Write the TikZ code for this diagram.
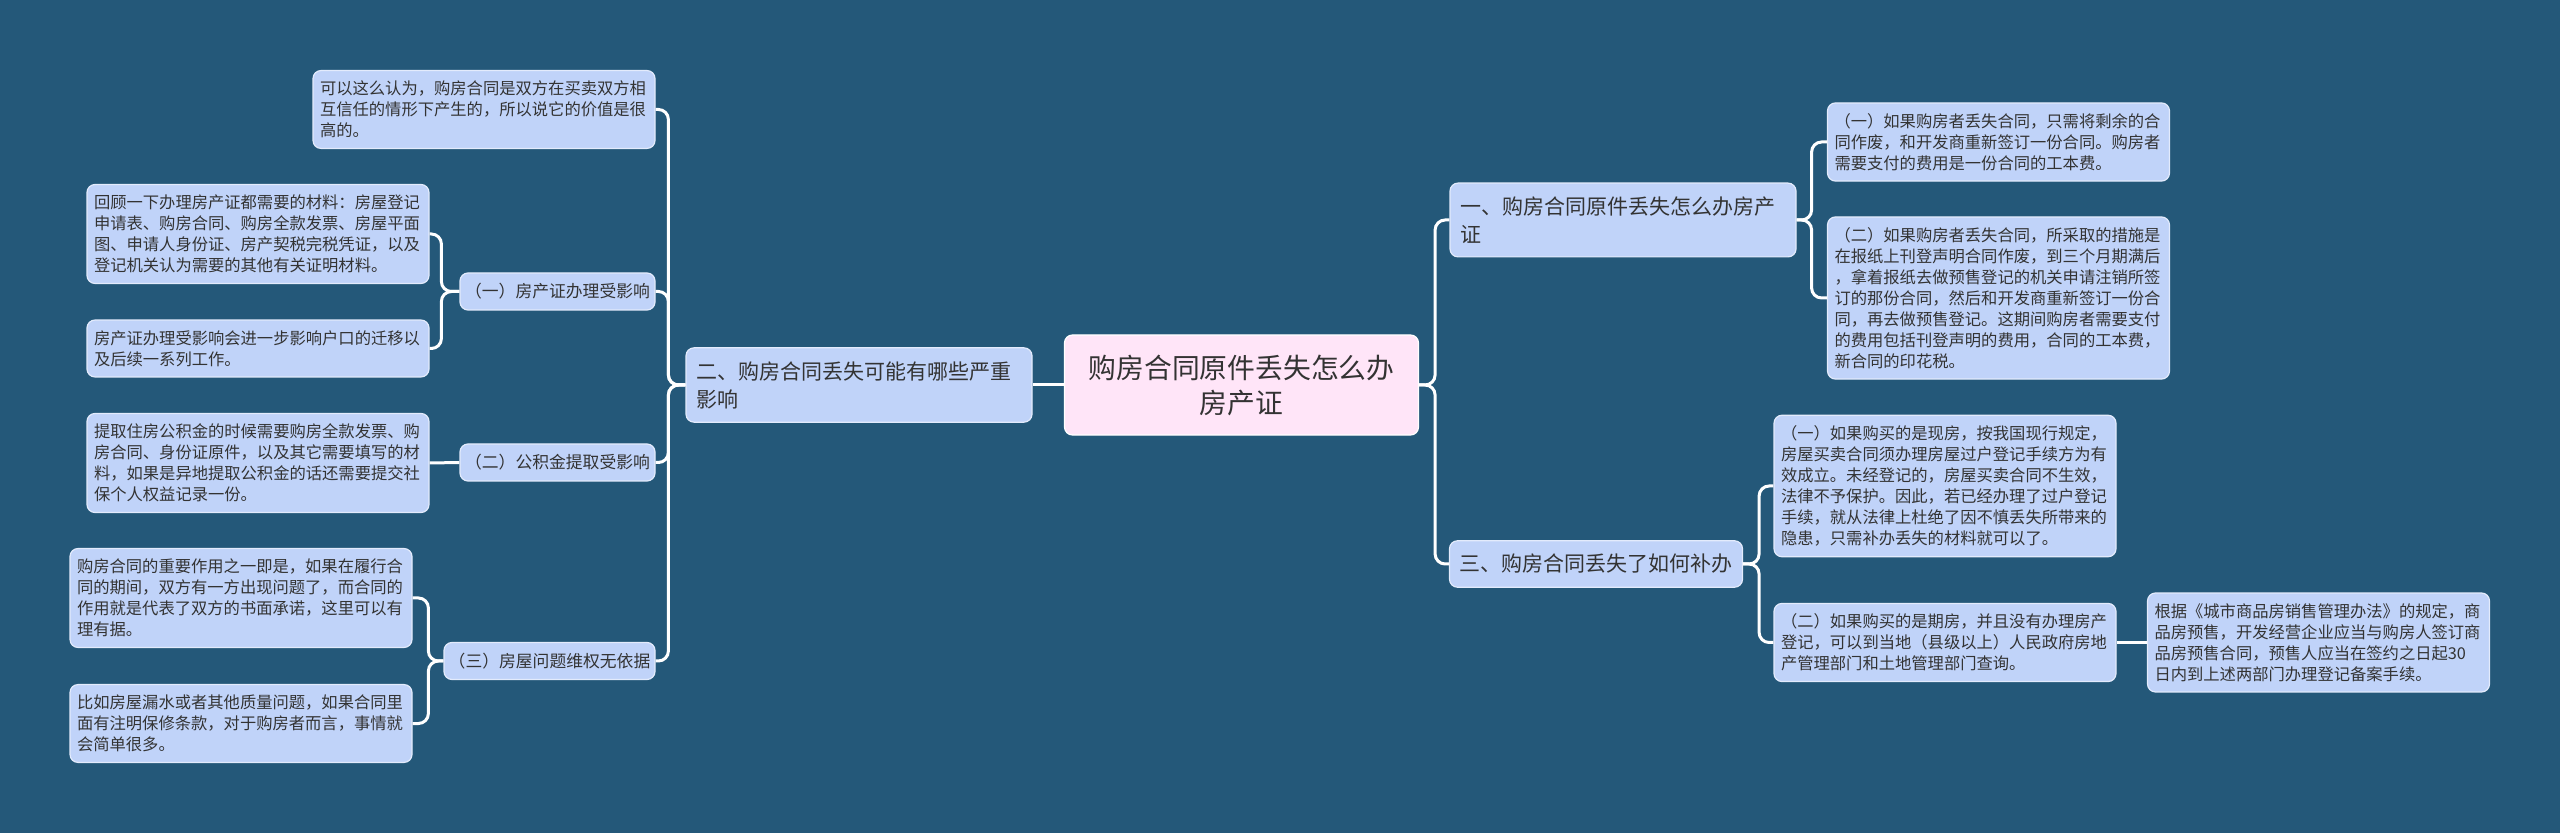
\documentclass[tikz,border=0pt]{standalone}
\usepackage{fontspec}
\setmainfont{Noto Sans CJK SC}
\usepackage{tikz}
\definecolor{bgblue}{HTML}{245879}
\definecolor{topicblue}{HTML}{C0D3F9}
\definecolor{rootpink}{HTML}{FFE5F8}
\definecolor{inkgray}{HTML}{333333}
\tikzset{
    rootbox/.style={rectangle, rounded corners=4pt, fill=rootpink, draw=white, line width=0.6pt, text=inkgray, align=center, text width=161pt, inner xsep=8pt, inner ysep=9.8pt, font=\fontsize{13.9pt}{17.5pt}\selectfont},
    topicbox/.style={rectangle, rounded corners=4pt, fill=topicblue, draw=white!55!topicblue, line width=0.6pt, text=inkgray, align=left, inner xsep=5pt, inner ysep=6.75pt, font=\fontsize{10.5pt}{14pt}\selectfont},
    subbox/.style={rectangle, rounded corners=4pt, fill=topicblue, draw=white!55!topicblue, line width=0.6pt, text=inkgray, minimum height=18.5pt, inner sep=2pt, font=\fontsize{8.4pt}{10.5pt}\selectfont},
    leafbox/.style={rectangle, rounded corners=4pt, fill=topicblue, draw=white!55!topicblue, line width=0.6pt, text=inkgray, align=left, text width=164pt, inner xsep=3.5pt, inner ysep=5.2pt, font=\fontsize{8.15pt}{10.5pt}\selectfont},
    link/.style={draw=white, line width=1.5pt, rounded corners=5pt}
}
\begin{document}
\begin{tikzpicture}[x=0.5pt, y=-0.5pt]
    \fill[bgblue] (0,0) rectangle (2560,833);
    \useasboundingbox (0,0) rectangle (2560,833);

    % centre
    \node[rootbox] (root) at (1241.5,385) {购房合同原件丢失怎么办\\房产证};

    % left side
    \node[topicbox, text width=163pt] (b2) at (859,385) {二、购房合同丢失可能有哪些严重\\影响};
    \node[leafbox] (b2top) at (484,109.5) {可以这么认为，购房合同是双方在买卖双方相\\互信任的情形下产生的，所以说它的价值是很\\高的。};
    \node[subbox, minimum width=97.5pt] (s1) at (557.5,291.5) {（一）房产证办理受影响};
    \node[subbox, minimum width=97.5pt] (s2) at (557.5,462.5) {（二）公积金提取受影响};
    \node[subbox, minimum width=105.5pt] (s3) at (549.5,661) {（三）房屋问题维权无依据};
    \node[leafbox] (s1a) at (258,234) {回顾一下办理房产证都需要的材料：房屋登记\\申请表、购房合同、购房全款发票、房屋平面\\图、申请人身份证、房产契税完税凭证，以及\\登记机关认为需要的其他有关证明材料。};
    \node[leafbox] (s1b) at (258,348.5) {房产证办理受影响会进一步影响户口的迁移以\\及后续一系列工作。};
    \node[leafbox] (s2a) at (258,463) {提取住房公积金的时候需要购房全款发票、购\\房合同、身份证原件，以及其它需要填写的材\\料，如果是异地提取公积金的话还需要提交社\\保个人权益记录一份。};
    \node[leafbox] (s3a) at (241,598) {购房合同的重要作用之一即是，如果在履行合\\同的期间，双方有一方出现问题了，而合同的\\作用就是代表了双方的书面承诺，这里可以有\\理有据。};
    \node[leafbox] (s3b) at (241,723.5) {比如房屋漏水或者其他质量问题，如果合同里\\面有注明保修条款，对于购房者而言，事情就\\会简单很多。};

    % right side
    \node[topicbox, text width=163pt] (b1) at (1623,220) {一、购房合同原件丢失怎么办房产\\证};
    \node[topicbox, text width=136.5pt] (b3) at (1596,564) {三、购房合同丢失了如何补办};
    \node[leafbox] (b1a) at (1998.5,142) {（一）如果购房者丢失合同，只需将剩余的合\\同作废，和开发商重新签订一份合同。购房者\\需要支付的费用是一份合同的工本费。};
    \node[leafbox] (b1b) at (1998.5,298) {（二）如果购房者丢失合同，所采取的措施是\\在报纸上刊登声明合同作废，到三个月期满后\\，拿着报纸去做预售登记的机关申请注销所签\\订的那份合同，然后和开发商重新签订一份合\\同，再去做预售登记。这期间购房者需要支付\\的费用包括刊登声明的费用，合同的工本费，\\新合同的印花税。};
    \node[leafbox] (b3a) at (1945,486) {（一）如果购买的是现房，按我国现行规定，\\房屋买卖合同须办理房屋过户登记手续方为有\\效成立。未经登记的，房屋买卖合同不生效，\\法律不予保护。因此，若已经办理了过户登记\\手续，就从法律上杜绝了因不慎丢失所带来的\\隐患，只需补办丢失的材料就可以了。};
    \node[leafbox] (b3b) at (1945,642.5) {（二）如果购买的是期房，并且没有办理房产\\登记，可以到当地（县级以上）人民政府房地\\产管理部门和土地管理部门查询。};
    \node[leafbox] (b3c) at (2318.5,642.5) {根据《城市商品房销售管理办法》的规定，商\\品房预售，开发经营企业应当与购房人签订商\\品房预售合同，预售人应当在签约之日起30\\日内到上述两部门办理登记备案手续。};

    \draw[link] (root.west) -- (b2.east);
    \draw[link] (b2.west) -- ++(-17,0) |- (b2top.east);
    \draw[link] (b2.west) -- ++(-17,0) |- (s1.east);
    \draw[link] (b2.west) -- ++(-17,0) |- (s2.east);
    \draw[link] (b2.west) -- ++(-17,0) |- (s3.east);
    \draw[link] (s1.west) -- ++(-18,0) |- (s1a.east);
    \draw[link] (s1.west) -- ++(-18,0) |- (s1b.east);
    \draw[link] (s2.west) -- (s2a.east);
    \draw[link] (s3.west) -- ++(-15,0) |- (s3a.east);
    \draw[link] (s3.west) -- ++(-15,0) |- (s3b.east);

    \draw[link] (root.east) -- ++(16,0) |- (b1.west);
    \draw[link] (root.east) -- ++(16,0) |- (b3.west);
    \draw[link] (b1.east) -- ++(15,0) |- (b1a.west);
    \draw[link] (b1.east) -- ++(15,0) |- (b1b.west);
    \draw[link] (b3.east) -- ++(16,0) |- (b3a.west);
    \draw[link] (b3.east) -- ++(16,0) |- (b3b.west);
    \draw[link] (b3b.east) -- (b3c.west);
\end{tikzpicture}
\end{document}
